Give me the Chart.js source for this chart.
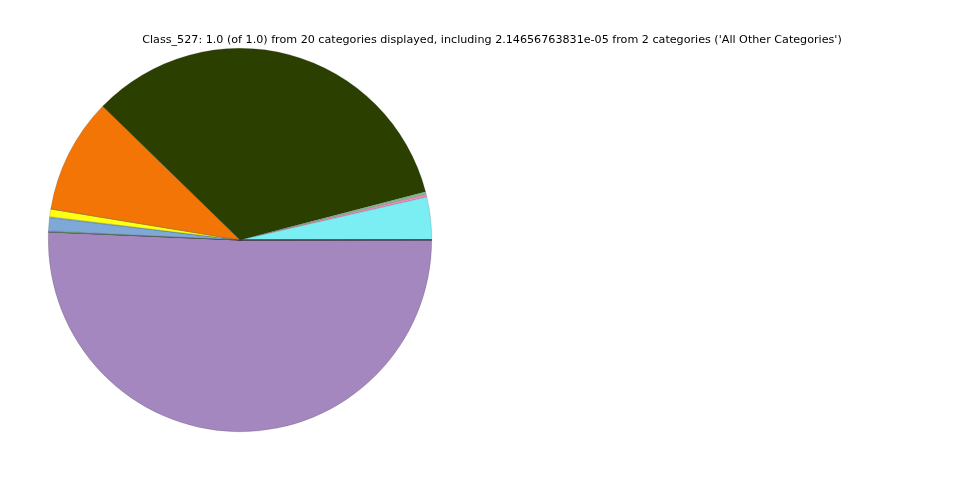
<!DOCTYPE html>
<html>
<head>
<meta charset="utf-8">
<script src="https://cdn.jsdelivr.net/npm/chart.js@4"></script>
<style>
  html, body { margin: 0; padding: 0; background: #fff; }
  #wrap { width: 960px; height: 480px; position: relative; }
</style>
</head>
<body>
<div id="wrap"><canvas id="pie-canvas"></canvas></div>
<script>
const TITLE = "Class_527: 1.0 (of 1.0) from 20 categories displayed, including 2.14656763831e-05 from 2 categories ('All Other Categories')";

// slices in matplotlib order (counterclockwise from 3 o'clock)
const categories = [
  'Cat A', 'Cat B', 'Cat C', 'Cat D', 'Cat E', 'Cat F', 'Cat G', 'Cat H', 'Cat I', 'Cat J',
  'Cat K', 'Cat L', 'Cat M', 'Cat N', 'Cat O', 'Cat P', 'Cat Q', 'Cat R', 'Cat S', 'All Other Categories',
];
const values = [
  0.00005, 0.00005, 0.00005, 0.00005, 0.00005, 0.0358, 0.0022, 0.0022, 0.3365, 0.0970,
  0.00005, 0.0064, 0.0008, 0.0110, 0.0008, 0.00005, 0.00005, 0.00005, 0.5065, 0.0000215,
];
const colors = [
  '#bfbf7f', '#d87f7f', '#7f7fd8', '#bfa07f', '#7fd8bf', '#7aeef2', '#f28cc0', '#7fbf8c', '#2b4000', '#f27506',
  '#c07fbf', '#ffff14', '#6fd3e0', '#7ea8d8', '#7fbf7f', '#d8bf7f', '#a0a0a0', '#7fa0bf', '#a387be', '#555555',
];

// chart.js draws clockwise from the top, so flip order and rotate to 3 o'clock
const rev = arr => arr.slice().reverse();

const titlePlugin = {
  id: 'figTitle',
  afterDraw(chart) {
    const ctx = chart.ctx;
    ctx.save();
    ctx.font = '11.15px "DejaVu Sans"';
    ctx.fillStyle = '#000';
    ctx.textAlign = 'center';
    ctx.textBaseline = 'middle';
    ctx.fillText(TITLE, 492, 40);
    ctx.restore();
  },
};

new Chart('pie-canvas', {
  type: 'pie',
  data: {
    labels: rev(categories),
    datasets: [{
      data: rev(values),
      backgroundColor: rev(colors),
      borderColor: 'rgba(40,40,40,0.35)',
      borderWidth: 0.5,
    }],
  },
  options: {
    responsive: true,
    maintainAspectRatio: false,
    animation: false,
    rotation: 90,
    layout: { padding: { left: 48, right: 528, top: 48, bottom: 48 } },
    plugins: {
      legend: { display: false },
      tooltip: { enabled: false },
      title: { display: false },
    },
  },
  plugins: [titlePlugin],
});
</script>
</body>
</html>
